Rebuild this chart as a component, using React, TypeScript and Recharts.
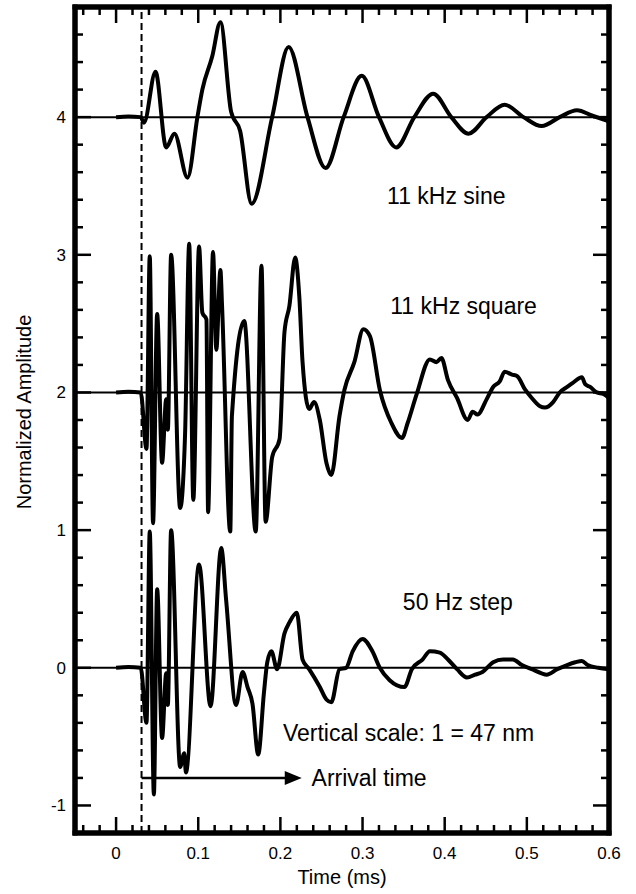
import { LineChart, Line, XAxis, YAxis, ReferenceLine, ReferenceDot, ReferenceArea } from 'recharts';

// time (ms), amplitude offset from the trace baseline
const sineTrace: [number, number][] = [
  [0, 0], [0.015, 0.005], [0.03, 0], [0.034, -0.04], [0.048, 0.33], [0.061, -0.22],
  [0.071, -0.12], [0.087, -0.44], [0.099, 0], [0.105, 0.2], [0.117, 0.44], [0.127, 0.69],
  [0.14, 0.04], [0.151, -0.1], [0.165, -0.63], [0.19, 0], [0.21, 0.51], [0.233, 0],
  [0.255, -0.37], [0.277, 0], [0.299, 0.3], [0.32, 0], [0.341, -0.22], [0.363, 0],
  [0.386, 0.17], [0.408, 0], [0.429, -0.12], [0.451, 0], [0.473, 0.09], [0.496, 0],
  [0.518, -0.065], [0.54, 0], [0.561, 0.05], [0.58, 0.01], [0.6, -0.03],
];

const squareTrace: [number, number][] = [
  [0, 0], [0.015, 0.005], [0.03, 0], [0.037, -0.41], [0.041, 0.99], [0.045, -0.95],
  [0.05, 0.57], [0.056, -0.51], [0.061, -0.05], [0.063, -0.27], [0.067, 1.0], [0.078, -0.84],
  [0.084, -0.3], [0.089, 1.08], [0.094, -0.78], [0.101, 1.06], [0.105, 0.58], [0.11, 0.53],
  [0.112, -0.87], [0.118, 1.02], [0.122, 0.31], [0.127, 0.89], [0.129, 0.63], [0.139, -1.01],
  [0.141, -0.17], [0.156, 0.52], [0.17, -1.01], [0.177, 0.92], [0.182, -0.94], [0.19, -0.47],
  [0.199, -0.34], [0.205, 0.44], [0.211, 0.63], [0.218, 0.98], [0.223, 0.7], [0.227, 0.22],
  [0.235, -0.12], [0.241, -0.07], [0.248, -0.2], [0.256, -0.51], [0.262, -0.6], [0.272, -0.17],
  [0.278, 0.02], [0.29, 0.22], [0.301, 0.46], [0.309, 0.41], [0.321, 0.02], [0.335, -0.22],
  [0.348, -0.33], [0.355, -0.22], [0.366, -0.01], [0.382, 0.24], [0.39, 0.22], [0.396, 0.25],
  [0.404, 0.09], [0.415, -0.04], [0.428, -0.2], [0.434, -0.14], [0.44, -0.16], [0.451, -0.05],
  [0.459, 0.04], [0.467, 0.08], [0.473, 0.15], [0.482, 0.13], [0.488, 0.12], [0.498, 0.02],
  [0.506, -0.04], [0.516, -0.1], [0.522, -0.11], [0.532, -0.07], [0.54, 0], [0.549, 0.04],
  [0.556, 0.07], [0.567, 0.11], [0.571, 0.06], [0.577, 0.04], [0.585, 0], [0.593, -0.01],
  [0.6, -0.04],
];

const stepTrace: [number, number][] = [
  [0, 0], [0.015, 0.005], [0.03, 0], [0.037, -0.4], [0.041, 0.99], [0.046, -0.92],
  [0.05, 0.57], [0.056, -0.51], [0.061, -0.04], [0.063, -0.27], [0.067, 1.0], [0.078, -0.72],
  [0.083, -0.62], [0.085, -0.76], [0.101, 0.75], [0.115, -0.28], [0.128, 0.87], [0.134, 0.49],
  [0.146, -0.27], [0.154, -0.03], [0.16, -0.14], [0.166, -0.26], [0.173, -0.63], [0.18, -0.18],
  [0.184, 0.04], [0.189, 0.12], [0.196, -0.01], [0.205, 0.25], [0.211, 0.33], [0.22, 0.4],
  [0.227, 0.06], [0.235, -0.01], [0.248, -0.14], [0.256, -0.23], [0.262, -0.25], [0.272, -0.01],
  [0.28, 0], [0.288, 0.12], [0.3, 0.21], [0.312, 0.12], [0.321, 0], [0.333, -0.09],
  [0.351, -0.14], [0.36, -0.01], [0.373, 0.06], [0.382, 0.12], [0.394, 0.11], [0.404, 0.06],
  [0.415, -0.01], [0.427, -0.07], [0.437, -0.05], [0.446, -0.03], [0.459, 0.04], [0.471, 0.06],
  [0.483, 0.06], [0.494, 0.02], [0.506, -0.01], [0.518, -0.04], [0.524, -0.05], [0.537, -0.01],
  [0.549, 0.02], [0.559, 0.04], [0.567, 0.05], [0.574, 0.02], [0.587, 0], [0.6, -0.01],
];

const traceOffsets = [4, 2, 0];
const annotations = [
  { x: 0.402, y: 3.43, text: '11 kHz sine' },
  { x: 0.423, y: 2.63, text: '11 kHz square' },
  { x: 0.416, y: 0.48, text: '50 Hz step' },
  { x: 0.356, y: -0.47, text: 'Vertical scale: 1 = 47 nm' },
  { x: 0.308, y: -0.8, text: 'Arrival time' },
];
const arrivalTime = 0.031;
const arrowEnd = 0.226;
const arrowY = -0.8;

const xDomain: [number, number] = [-0.05, 0.6];
const yDomain: [number, number] = [-1.2, 4.8];
const xMajorTicks = [0, 0.1, 0.2, 0.3, 0.4, 0.5, 0.6];
const yMajorTicks = [-1, 0, 1, 2, 3, 4];
const xTicks = Array.from({ length: 33 }, (_, i) => Number((-0.04 + i * 0.02).toFixed(2)));
const yTicks = Array.from({ length: 29 }, (_, i) => Number((-1 + i * 0.2).toFixed(1)));

const toData = (trace: [number, number][], offset: number) =>
  trace.map(([t, v]) => ({ t, v: v + offset }));

const series = [sineTrace, squareTrace, stepTrace].map((tr, i) => toData(tr, traceOffsets[i]));

const MAJOR = 16;
const MINOR = 8;
const frame = { stroke: '#000', strokeWidth: 5, strokeLinecap: 'square' as const };

const near = (list: number[], v: number) => list.some((m) => Math.abs(m - v) < 1e-6);

const xTick = (side: 'top' | 'bottom') => (props: any) => {
  const { x, y, payload } = props;
  const major = near(xMajorTicks, payload.value);
  const dir = side === 'bottom' ? -1 : 1;
  return (
    <g>
      <line x1={x} y1={y} x2={x} y2={y + dir * (major ? MAJOR : MINOR)} stroke="#000" strokeWidth={2.5} />
      {side === 'bottom' && major && (
        <text x={x} y={y + 26} textAnchor="middle" fontSize={17} fill="#000">
          {String(payload.value)}
        </text>
      )}
    </g>
  );
};

const yTick = (side: 'left' | 'right') => (props: any) => {
  const { x, y, payload } = props;
  const major = near(yMajorTicks, payload.value);
  const dir = side === 'left' ? 1 : -1;
  return (
    <g>
      <line x1={x} y1={y} x2={x + dir * (major ? MAJOR : MINOR)} y2={y} stroke="#000" strokeWidth={2.5} />
      {side === 'left' && major && (
        <text x={x - 9} y={y + 6} textAnchor="end" fontSize={17} fill="#000">
          {String(payload.value)}
        </text>
      )}
    </g>
  );
};

const xLabel = (props: any) => {
  const vb = props.viewBox || { x: 75, y: 833, width: 534, height: 61 };
  return (
    <text x={vb.x + vb.width / 2} y={vb.y + 51} textAnchor="middle" fontSize={20} fill="#000">
      Time (ms)
    </text>
  );
};

const yLabel = (props: any) => {
  const vb = props.viewBox || { x: 0, y: 7, width: 75, height: 826 };
  const cx = vb.x + 24;
  const cy = vb.y + vb.height / 2 - 8;
  return (
    <text x={cx} y={cy} transform={`rotate(-90 ${cx} ${cy})`} textAnchor="middle" dominantBaseline="central" fontSize={20} fill="#000">
      Normalized Amplitude
    </text>
  );
};

const ArrowShape = (props: any) => {
  const { x1, y1, x2, y2 } = props;
  return (
    <g>
      <line x1={x1} y1={y1} x2={x2 - 12} y2={y2} stroke="#000" strokeWidth={2.5} />
      <polygon points={`${x2},${y2} ${x2 - 17},${y2 - 7} ${x2 - 17},${y2 + 7}`} fill="#000" />
    </g>
  );
};

export default function App() {
  return (
    <div
      style={{
        position: 'absolute',
        left: 0,
        top: 0,
        width: 636,
        height: 894,
        background: '#fff',
        fontFamily: '"Liberation Sans", Arial, sans-serif',
      }}
    >
      <LineChart width={636} height={894} margin={{ top: 0, right: 0, bottom: 0, left: 0 }}>
        <XAxis
          xAxisId="b"
          type="number"
          dataKey="t"
          domain={xDomain}
          ticks={xTicks}
          interval={0}
          height={61}
          tickSize={0}
          tickMargin={0}
          tickLine={false}
          tick={xTick('bottom')}
          axisLine={frame}
          allowDataOverflow
          label={xLabel}
        />
        <XAxis
          xAxisId="t"
          orientation="top"
          type="number"
          dataKey="t"
          domain={xDomain}
          ticks={xTicks}
          interval={0}
          height={7}
          tickSize={0}
          tickMargin={0}
          tickLine={false}
          tick={xTick('top')}
          axisLine={frame}
          allowDataOverflow
        />
        <YAxis
          yAxisId="l"
          type="number"
          domain={yDomain}
          ticks={yTicks}
          interval={0}
          width={75}
          tickSize={0}
          tickMargin={0}
          tickLine={false}
          tick={yTick('left')}
          axisLine={frame}
          allowDataOverflow
          label={yLabel}
        />
        <YAxis
          yAxisId="r"
          orientation="right"
          type="number"
          domain={yDomain}
          ticks={yTicks}
          interval={0}
          width={27}
          tickSize={0}
          tickMargin={0}
          tickLine={false}
          tick={yTick('right')}
          axisLine={frame}
          allowDataOverflow
        />

        {traceOffsets.map((o) => (
          <ReferenceLine key={o} xAxisId="b" yAxisId="l" y={o} stroke="#000" strokeWidth={2} />
        ))}
        <ReferenceLine xAxisId="b" yAxisId="l" x={arrivalTime} stroke="#000" strokeWidth={2} strokeDasharray="7 4" />

        {series.map((d, i) => (
          <Line
            key={i}
            xAxisId="b"
            yAxisId="l"
            data={d}
            dataKey="v"
            type="monotone"
            stroke="#000"
            strokeWidth={4}
            strokeLinejoin="round"
            dot={false}
            activeDot={false}
            isAnimationActive={false}
          />
        ))}

        <ReferenceLine
          xAxisId="b"
          yAxisId="l"
          segment={[{ x: arrivalTime, y: arrowY }, { x: arrowEnd, y: arrowY }]}
          shape={ArrowShape}
        />

        {annotations.map((a) => (
          <ReferenceDot
            key={a.text}
            xAxisId="b"
            yAxisId="l"
            x={a.x}
            y={a.y}
            r={0}
            stroke="none"
            fill="none"
            label={{ value: a.text, position: 'center', fill: '#000', fontSize: 23 }}
          />
        ))}

        <ReferenceArea
          xAxisId="b"
          yAxisId="l"
          x1={xDomain[0]}
          x2={xDomain[1]}
          y1={yDomain[0]}
          y2={yDomain[1]}
          fill="none"
          fillOpacity={0}
          stroke="#000"
          strokeWidth={5}
          strokeOpacity={1}
          ifOverflow="visible"
        />
      </LineChart>
    </div>
  );
}
